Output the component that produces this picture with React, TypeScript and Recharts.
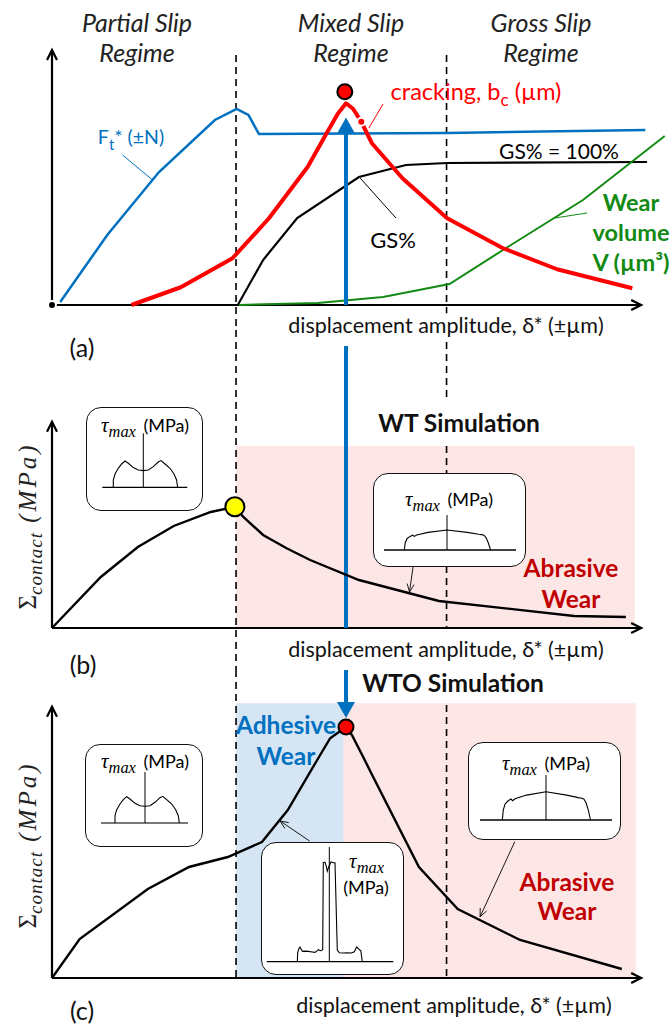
import React from 'react';
import {
  ComposedChart, LineChart, Line, XAxis, YAxis,
  ReferenceLine, ReferenceArea, ReferenceDot,
} from 'recharts';

// ---------- data (displacement amplitude in arbitrary units, 0..100 = axis length) ----------
const regimeNames = ['Partial Slip', 'Mixed Slip', 'Gross Slip'];
const regimeBounds = [31.3, 67.1];
const simAmplitude = 50.0;

// panel (a)
const ftX = [1.4, 9.4, 18.2, 27.7, 31.4, 33.4, 35.2, 67.2, 100.9];
const ftY = [1.2, 28, 53.2, 74, 78.4, 76, 68.4, 68.8, 70];
const crackX = [13.5, 21.9, 30.7, 36.9, 43.5, 46.7, 48.6, 50.0, 51.2, 52.6, 54.4, 59.6, 67.2, 76.7, 85.9, 98.7];
const crackY = [0, 7.1, 18.7, 34.7, 55.3, 68.7, 76.5, 80.7, 78.5, 73.3, 64.7, 50.7, 34.7, 22.7, 14.3, 6.7];
const gsX = [0, 31.6, 35.9, 41.7, 52.2, 60.2, 67.2, 101.2];
const gsY = [0, 0, 18, 34.8, 51.2, 56, 56.8, 57.2];
const wearX = [31.8, 45.2, 56.3, 67.6, 77.5, 90.3, 104.2];
const wearY = [0, 0.8, 3.2, 8.4, 23.2, 42, 67.6];
const crackPeak = [49.8, 85.3];

// panel (b) WT simulation
const wtX = [0, 8.3, 14.6, 20.7, 27.0, 31.1, 32.5, 35.9, 39.9, 43.9, 52.2, 65.8, 88.8, 97.6];
const wtY = [0, 20.4, 32.4, 40.8, 46.4, 48.5, 44.5, 37.2, 31.9, 27.2, 19.2, 10.8, 4.8, 4.4];
const wtPeak = [31.1, 48.5];

// panel (c) WTO simulation
const wtoX = [0, 4.7, 16.3, 23.3, 29.9, 35.7, 40.1, 44.9, 47.3, 50.0, 51.0, 52.9, 54.6, 62.4, 69.0, 79.6, 96.9];
const wtoY = [0, 15.6, 35.6, 44.4, 48.4, 54.4, 67.2, 86.4, 95.9, 100.4, 97.2, 88.5, 80.5, 44.4, 27.6, 15.2, 3.6];
const wtoPeak = [50.0, 100.4];

// tau_max profiles drawn in the insets
const hornX = [-30, -30, -28.3, -25, -21.7, -18.3, -15, -10, -5, 0, 5, 10, 15, 17.7, 21.7, 26.7, 30.7, 33.3, 34.3];
const hornY = [0, 7.3, 13.3, 19, 23.3, 26.3, 24, 19.7, 17.3, 16.7, 17.3, 20.7, 25.3, 26.7, 23.3, 19, 13.3, 7.3, 0];
const grossX = [-0.97, -0.95, -0.91, -0.84, -0.78, -0.74, -0.69, -0.43, 0, 0.46, 0.72, 0.79, 0.84, 0.89, 0.94, 0.99];
const grossY = [0, 0.35, 0.565, 0.68, 0.74, 0.68, 0.75, 0.88, 1, 0.88, 0.79, 0.77, 0.74, 0.61, 0.35, 0];
const spikeX = [-32, -31.6, -30.5, -29.3, -28, -26.7, -24, -21, -17, -14.3, -12, -11, -9, -7.5, -6.6, -6, -4.3, -3, -2, -0.5, 1.7, 4, 5.7, 7.5, 8, 10, 14, 18, 22, 25, 27.4, 29, 31.5, 33];
const spikeY = [0, 9, 13, 14.7, 12, 10.3, 10.6, 10.3, 9.7, 9.3, 11, 12, 11, 11.5, 12, 99, 99.5, 95, 90.5, 95, 99.7, 99, 99, 30, 11.7, 9, 8.7, 9, 8.7, 10, 14.7, 13, 11, 0];

const zip = (xs: number[], ys: number[]) => xs.map((x, i) => ({ x, y: ys[i] }));

// ---------- layout ----------
const W = 671;
const X_ORIGIN = 52;
const PXU = 5.88;
const PYU = 2.5;
const xDomain: [number, number] = [-X_ORIGIN / PXU, (W - X_ORIGIN) / PXU];
const yDomain = (top: number, h: number, zero: number): [number, number] =>
  [(zero - top - h) / PYU, (zero - top) / PYU];

const SANS = 'Lato, "Open Sans", sans-serif';
const SERIF = '"Liberation Serif", "DejaVu Serif", serif';
const BLUE = '#0070c0';
const RED = '#ff0000';
const GREEN = '#138a13';
const DARKRED = '#c00000';
const PINK = '#fde6e6';
const LIGHTBLUE = '#d6e5f4';

type ArrowOpts = { color: string; width: number; len: number; half: number; filled?: boolean };
const arrow = (o: ArrowOpts) => (p: any) => {
  const { x1, y1, x2, y2 } = p;
  const a = Math.atan2(y2 - y1, x2 - x1);
  const c = Math.cos(a), s = Math.sin(a);
  const bx = x2 - o.len * c, by = y2 - o.len * s;
  const lx = bx - o.half * s, ly = by + o.half * c;
  const rx = bx + o.half * s, ry = by - o.half * c;
  return (
    <g>
      <line x1={x1} y1={y1} x2={o.filled ? bx : x2} y2={o.filled ? by : y2} stroke={o.color} strokeWidth={o.width} />
      {o.filled
        ? <polygon points={`${x2},${y2} ${lx},${ly} ${rx},${ry}`} fill={o.color} />
        : <polyline points={`${lx},${ly} ${x2},${y2} ${rx},${ry}`} fill="none" stroke={o.color} strokeWidth={o.width} />}
    </g>
  );
};
const axisArrow = arrow({ color: '#000', width: 2.2, len: 10, half: 5 });
const leaderArrow = arrow({ color: '#000', width: 0.9, len: 8, half: 3.5 });
const blueArrow = arrow({ color: BLUE, width: 4, len: 16, half: 9, filled: true });

const seg = (x1: number, y1: number, x2: number, y2: number) => [{ x: x1, y: y1 }, { x: x2, y: y2 }];
const dash = { stroke: '#000', strokeWidth: 1.6, strokeDasharray: '7 5' };

function Txt({ x, y, children, style }: { x: number; y: number; children: React.ReactNode; style?: React.CSSProperties }) {
  return (
    <div style={{
      position: 'absolute', left: x, top: y, transform: 'translate(-50%,-50%)',
      whiteSpace: 'nowrap', lineHeight: 1, fontFamily: SANS, ...style,
    }}>{children}</div>
  );
}

const Tau = ({ size = 21 }: { size?: number }) => (
  <span style={{ fontFamily: SERIF, fontStyle: 'italic', fontSize: size, marginRight: 3 }}>
    τ<span style={{ fontSize: size * 0.78, position: 'relative', top: 5 }}>max</span>
  </span>
);

const SigmaLabel = ({ x, y }: { x: number; y: number }) => (
  <div style={{
    position: 'absolute', left: x, top: y, transform: 'translate(-50%,-50%) rotate(-90deg)',
    whiteSpace: 'nowrap', lineHeight: 1, fontFamily: SERIF, fontSize: 25, fontStyle: 'italic', color: '#222',
  }}>
    <span style={{ fontStyle: 'normal' }}>Σ</span>
    <span style={{ fontSize: 19, position: 'relative', top: 6, letterSpacing: 1 }}>contact</span>
    <span style={{ letterSpacing: 3 }}> (MPa)</span>
  </div>
);

type InsetProps = {
  left: number; top: number; w: number; h: number; cx: number; base: number;
  sx: number; sy: number; stem: number; baseL: number; baseR: number;
  xs: number[]; ys: number[]; baseColor?: string; label: React.ReactNode;
};
function Inset(p: InsetProps) {
  const xd: [number, number] = [-p.cx / p.sx, (p.w - p.cx) / p.sx];
  const yd: [number, number] = [-(p.h - p.base) / p.sy, p.base / p.sy];
  return (
    <div style={{
      position: 'absolute', left: p.left, top: p.top, width: p.w, height: p.h, boxSizing: 'border-box',
      border: '1.3px solid #111', borderRadius: 15, background: '#fff', overflow: 'hidden',
    }}>
      <div style={{ position: 'absolute', left: -1.3, top: -1.3 }}>
        <LineChart width={p.w} height={p.h} margin={{ top: 0, right: 0, bottom: 0, left: 0 }}>
          <XAxis type="number" dataKey="x" domain={xd} hide allowDataOverflow />
          <YAxis type="number" domain={yd} hide allowDataOverflow />
          <ReferenceLine segment={seg(p.baseL / p.sx, 0, p.baseR / p.sx, 0)} stroke={p.baseColor ?? '#000'} strokeWidth={p.baseColor ? 2 : 1.3} />
          <ReferenceLine segment={seg(0, 0, 0, p.stem / p.sy)} stroke="#000" strokeWidth={1} />
          <Line data={zip(p.xs, p.ys)} dataKey="y" type="linear" stroke="#000" strokeWidth={1.1} dot={false} isAnimationActive={false} />
        </LineChart>
      </div>
      {p.label}
    </div>
  );
}

const A = { top: 0, h: 330, zero: 305 };
const B = { top: 330, h: 340, zero: 628 };
const C = { top: 670, h: 356, zero: 978 };

export default function App() {
  const ydA = yDomain(A.top, A.h, A.zero);
  const ydB = yDomain(B.top, B.h, B.zero);
  const ydC = yDomain(C.top, C.h, C.zero);
  const margin = { top: 0, right: 0, bottom: 0, left: 0 };
  const [b1, b2] = regimeBounds;

  return (
    <div style={{ position: 'absolute', left: 0, top: 0, width: W, height: 1026, background: '#fff', overflow: 'hidden' }}>
      {/* (a) fretting map */}
      <div style={{ position: 'absolute', left: 0, top: A.top }}>
        <ComposedChart width={W} height={A.h} margin={margin}>
          <XAxis type="number" dataKey="x" domain={xDomain} hide allowDataOverflow />
          <YAxis type="number" domain={ydA} hide allowDataOverflow />
          <ReferenceLine segment={seg(b1, 100, b1, ydA[0])} {...dash} />
          <ReferenceLine segment={seg(b2, 100, b2, ydA[0])} {...dash} />
          <ReferenceLine segment={seg(0, 0, 0, 102)} shape={axisArrow} />
          <ReferenceLine segment={seg(0, 0, 100.2, 0)} shape={axisArrow} />
          <ReferenceLine segment={seg(12.0, 60, 17.1, 50)} stroke={BLUE} strokeWidth={1} />
          <ReferenceLine segment={seg(56.3, 80.4, 53.9, 70.8)} stroke={RED} strokeWidth={1} />
          <ReferenceLine segment={seg(58.5, 34.8, 52.4, 50.8)} stroke="#000" strokeWidth={1} />
          <ReferenceLine segment={seg(91.0, 36.8, 85.5, 34.8)} stroke={GREEN} strokeWidth={1} />
          <Line data={zip(ftX, ftY)} dataKey="y" type="linear" stroke={BLUE} strokeWidth={2.5} dot={false} isAnimationActive={false} />
          <Line data={zip(gsX, gsY)} dataKey="y" type="linear" stroke="#000" strokeWidth={2.2} dot={false} isAnimationActive={false} />
          <Line data={zip(wearX, wearY)} dataKey="y" type="linear" stroke={GREEN} strokeWidth={2} dot={false} isAnimationActive={false} />
          <Line data={zip(crackX, crackY)} dataKey="y" type="linear" stroke={RED} strokeWidth={4} strokeLinejoin="round" dot={false} isAnimationActive={false} />
          <ReferenceLine segment={seg(simAmplitude, 0, simAmplitude, 75)} shape={blueArrow} />
          <ReferenceDot x={crackPeak[0]} y={crackPeak[1]} r={7.5} fill={RED} stroke="#000" strokeWidth={2} />
        </ComposedChart>
      </div>

      {/* (b) WT simulation */}
      <div style={{ position: 'absolute', left: 0, top: B.top }}>
        <ComposedChart width={W} height={B.h} margin={margin}>
          <XAxis type="number" dataKey="x" domain={xDomain} hide allowDataOverflow />
          <YAxis type="number" domain={ydB} hide allowDataOverflow />
          <ReferenceArea x1={b1} x2={99.1} y1={0} y2={72.8} fill={PINK} fillOpacity={1} stroke="none" />
          <ReferenceLine segment={seg(b1, ydB[1], b1, ydB[0])} {...dash} />
          <ReferenceLine segment={seg(b2, ydB[1], b2, 90.4)} {...dash} />
          <ReferenceLine segment={seg(b2, 72.8, b2, 0)} {...dash} />
          <ReferenceLine segment={seg(0, 0, 0, 82.5)} shape={axisArrow} />
          <ReferenceLine segment={seg(0, 0, 100.2, 0)} shape={axisArrow} />
          <ReferenceLine segment={seg(simAmplitude, 112.8, simAmplitude, 0)} stroke={BLUE} strokeWidth={4} />
          <ReferenceLine segment={seg(61.4, 24.4, 60.8, 14.4)} shape={leaderArrow} />
          <Line data={zip(wtX, wtY)} dataKey="y" type="linear" stroke="#000" strokeWidth={2.4} dot={false} isAnimationActive={false} />
          <ReferenceDot x={wtPeak[0]} y={wtPeak[1]} r={9.5} fill="#ffff00" stroke="#000" strokeWidth={2} />
        </ComposedChart>
      </div>

      {/* (c) WTO simulation */}
      <div style={{ position: 'absolute', left: 0, top: C.top }}>
        <ComposedChart width={W} height={C.h} margin={margin}>
          <XAxis type="number" dataKey="x" domain={xDomain} hide allowDataOverflow />
          <YAxis type="number" domain={ydC} hide allowDataOverflow />
          <ReferenceArea x1={b1} x2={49.6} y1={0} y2={109.9} fill={LIGHTBLUE} fillOpacity={1} stroke="none" />
          <ReferenceArea x1={49.6} x2={99.3} y1={0} y2={109.9} fill={PINK} fillOpacity={1} stroke="none" />
          <ReferenceLine segment={seg(b1, ydC[1], b1, 0)} {...dash} />
          <ReferenceLine segment={seg(b2, 109.2, b2, 0)} {...dash} />
          <ReferenceLine segment={seg(0, 0, 0, 108.5)} shape={axisArrow} />
          <ReferenceLine segment={seg(0, 0, 100.2, 0)} shape={axisArrow} />
          <ReferenceLine segment={seg(43.8, 54.8, 38.8, 62.8)} shape={leaderArrow} />
          <ReferenceLine segment={seg(78.7, 54.5, 72.8, 24.5)} shape={leaderArrow} />
          <Line data={zip(wtoX, wtoY)} dataKey="y" type="linear" stroke="#000" strokeWidth={2.4} dot={false} isAnimationActive={false} />
          <ReferenceLine segment={seg(simAmplitude, 123.2, simAmplitude, 104)} shape={blueArrow} />
          <ReferenceDot x={wtoPeak[0]} y={wtoPeak[1]} r={7.5} fill={RED} stroke="#000" strokeWidth={2} />
        </ComposedChart>
      </div>

      {/* regime titles */}
      {[137, 351, 541].map((cx, i) => (
        <div key={i} style={{
          position: 'absolute', left: cx, top: 7, transform: 'translateX(-50%)', textAlign: 'center',
          fontFamily: SANS, fontStyle: 'italic', fontSize: 25, lineHeight: '30px', color: '#222', whiteSpace: 'nowrap',
        }}>{regimeNames[i]}<br />Regime</div>
      ))}

      {/* (a) labels */}
      <Txt x={131} y={137} style={{ color: BLUE, fontSize: 19.5 }}>
        F<span style={{ fontSize: 15, position: 'relative', top: 6 }}>t</span>* (±N)
      </Txt>
      <Txt x={476} y={92} style={{ color: RED, fontSize: 23.5 }}>
        cracking, b<span style={{ fontSize: 17, position: 'relative', top: 6 }}>c</span> (µm)
      </Txt>
      <Txt x={559} y={150} style={{ color: '#000', fontSize: 21 }}>GS% = 100%</Txt>
      <Txt x={393} y={240} style={{ color: '#000', fontSize: 22 }}>GS%</Txt>
      <div style={{
        position: 'absolute', left: 631, top: 187, transform: 'translateX(-50%)', textAlign: 'center',
        fontFamily: SANS, fontWeight: 700, fontSize: 23.5, lineHeight: '30px', color: GREEN, whiteSpace: 'nowrap',
      }}>Wear<br />volume<br />V (µm³)</div>
      <Txt x={446} y={326} style={{ fontSize: 21.5, color: '#111', background: '#fff', padding: '2px 0' }}>displacement amplitude, δ* (±µm)</Txt>
      <Txt x={82} y={347} style={{ fontSize: 25, color: '#111' }}>(a)</Txt>

      {/* (b) labels */}
      <Txt x={459} y={423} style={{ fontSize: 24.5, fontWeight: 700, color: '#111' }}>WT Simulation</Txt>
      <div style={{
        position: 'absolute', left: 571, top: 552, transform: 'translateX(-50%)', textAlign: 'center',
        fontFamily: SANS, fontWeight: 700, fontSize: 24.5, lineHeight: '31px', color: DARKRED, whiteSpace: 'nowrap',
      }}>Abrasive<br />Wear</div>
      <SigmaLabel x={27} y={526} />
      <Txt x={446} y={650} style={{ fontSize: 21.5, color: '#111' }}>displacement amplitude, δ* (±µm)</Txt>
      <Txt x={83} y={664} style={{ fontSize: 25, color: '#111' }}>(b)</Txt>

      {/* (c) labels */}
      <Txt x={453} y={683} style={{ fontSize: 24.5, fontWeight: 700, color: '#111' }}>WTO Simulation</Txt>
      <div style={{
        position: 'absolute', left: 286, top: 709, transform: 'translateX(-50%)', textAlign: 'center',
        fontFamily: SANS, fontWeight: 700, fontSize: 24.5, lineHeight: '31px', color: BLUE, whiteSpace: 'nowrap',
      }}>Adhesive<br />Wear</div>
      <div style={{
        position: 'absolute', left: 567, top: 867, transform: 'translateX(-50%)', textAlign: 'center',
        fontFamily: SANS, fontWeight: 700, fontSize: 24.5, lineHeight: '29px', color: DARKRED, whiteSpace: 'nowrap',
      }}>Abrasive<br />Wear</div>
      <SigmaLabel x={27} y={845} />
      <Txt x={454} y={1006} style={{ fontSize: 21.5, color: '#111' }}>displacement amplitude, δ* (±µm)</Txt>
      <Txt x={82} y={1010} style={{ fontSize: 25, color: '#111' }}>(c)</Txt>

      {/* tau_max insets */}
      <Inset left={86} top={407} w={117} h={104} cx={57.3} base={80.3} sx={1} sy={1} stem={54} baseL={-41} baseR={44}
        xs={hornX} ys={hornY}
        label={<Txt x={58} y={17} style={{ fontSize: 18 }}><Tau /> (MPa)</Txt>} />
      <Inset left={373} top={473} w={153} h={94} cx={74} base={77} sx={44} sy={20} stem={35} baseL={-63} baseR={69}
        xs={grossX} ys={grossY}
        label={<Txt x={75} y={25} style={{ fontSize: 18 }}><Tau /> (MPa)</Txt>} />
      <Inset left={85} top={744} w={118} h={103} cx={60} base={79} sx={1} sy={1} stem={51} baseL={-44} baseR={43}
        xs={hornX} ys={hornY} baseColor="#777"
        label={<Txt x={59} y={16} style={{ fontSize: 18 }}><Tau /> (MPa)</Txt>} />
      <Inset left={261} top={842} w={143} h={133} cx={68.3} base={119.7} sx={1} sy={1} stem={114.7} baseL={-62.6} baseR={64}
        xs={spikeX} ys={spikeY}
        label={<>
          <Txt x={106} y={18}><Tau /></Txt>
          <Txt x={104} y={44} style={{ fontSize: 18 }}>(MPa)</Txt>
        </>} />
      <Inset left={468} top={742} w={153} h={98} cx={78} base={78} sx={45} sy={28.3} stem={45} baseL={-66} baseR={66}
        xs={grossX} ys={grossY}
        label={<Txt x={77} y={20} style={{ fontSize: 18 }}><Tau /> (MPa)</Txt>} />
    </div>
  );
}
